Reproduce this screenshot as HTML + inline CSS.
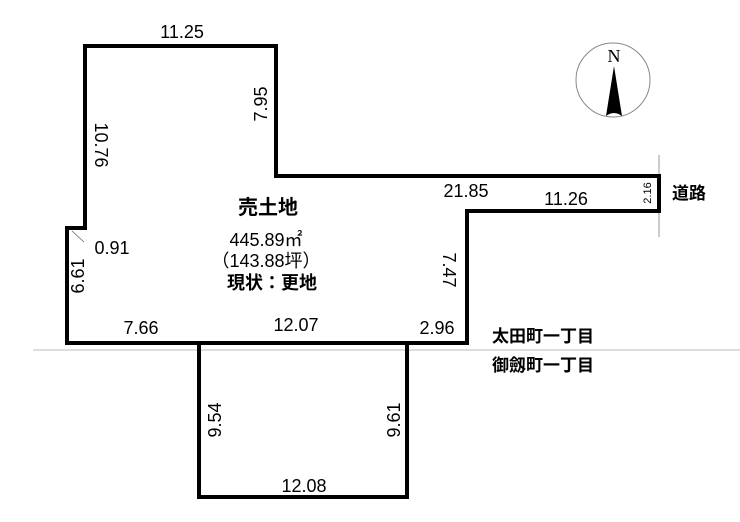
<!DOCTYPE html>
<html><head><meta charset="utf-8"><style>
html,body{margin:0;padding:0;background:#fff;}
svg{display:block;}
text{font-family:"Liberation Sans","Noto Sans CJK JP",sans-serif;fill:#000;}
.b{font-weight:bold;}
</style></head><body>
<svg width="740" height="522" viewBox="0 0 740 522" xmlns="http://www.w3.org/2000/svg">
<line x1="33" y1="350" x2="740" y2="350" stroke="#bbb" stroke-width="1"/>
<line x1="659" y1="155" x2="659" y2="237" stroke="#999" stroke-width="1"/>
<line x1="72" y1="231" x2="84" y2="242" stroke="#666" stroke-width="0.8"/>
<polygon points="85,46 276,46 276,176 659,176 659,211 467,211 467,343 67,343 67,228 85,228" fill="none" stroke="#000" stroke-width="4"/>
<polyline points="199,343 199,497 407,497 407,343" fill="none" stroke="#000" stroke-width="4"/>
<circle cx="613" cy="80" r="37" fill="none" stroke="#888" stroke-width="1"/>
<text x="614" y="62" font-size="18" text-anchor="middle" style="font-family:'Liberation Serif',serif">N</text>
<path d="M614,66 L606,116 Q614,110 622,116 Z" fill="#000"/>
<g font-size="18">
<text x="182" y="38" text-anchor="middle">11.25</text>
<text transform="translate(95,145) rotate(90)" text-anchor="middle">10.76</text>
<text transform="translate(267,104) rotate(-90)" text-anchor="middle">7.95</text>
<text x="466" y="197" text-anchor="middle">21.85</text>
<text x="566" y="205" text-anchor="middle">11.26</text>
<text x="112" y="254" text-anchor="middle">0.91</text>
<text transform="translate(84,276) rotate(-90)" text-anchor="middle">6.61</text>
<text transform="translate(443,270) rotate(90)" text-anchor="middle">7.47</text>
<text x="141" y="334" text-anchor="middle">7.66</text>
<text x="296" y="331" text-anchor="middle">12.07</text>
<text x="437" y="334" text-anchor="middle">2.96</text>
<text transform="translate(221,420) rotate(-90)" text-anchor="middle">9.54</text>
<text transform="translate(400,420) rotate(-90)" text-anchor="middle">9.61</text>
<text x="304" y="492" text-anchor="middle">12.08</text>
<text x="266" y="246" text-anchor="middle">445.89㎡</text>
<text x="266" y="267" text-anchor="middle">（143.88坪）</text>
</g>
<text transform="translate(651,193) rotate(-90)" font-size="11" text-anchor="middle">2.16</text>
<text x="268" y="214" font-size="20" class="b" text-anchor="middle">売土地</text>
<text x="272" y="289" font-size="18" class="b" text-anchor="middle">現状：更地</text>
<text x="672" y="199" font-size="17" class="b">道路</text>
<text x="492" y="342" font-size="17" class="b">太田町一丁目</text>
<text x="492" y="371" font-size="17" class="b">御劔町一丁目</text>
</svg>
</body></html>
